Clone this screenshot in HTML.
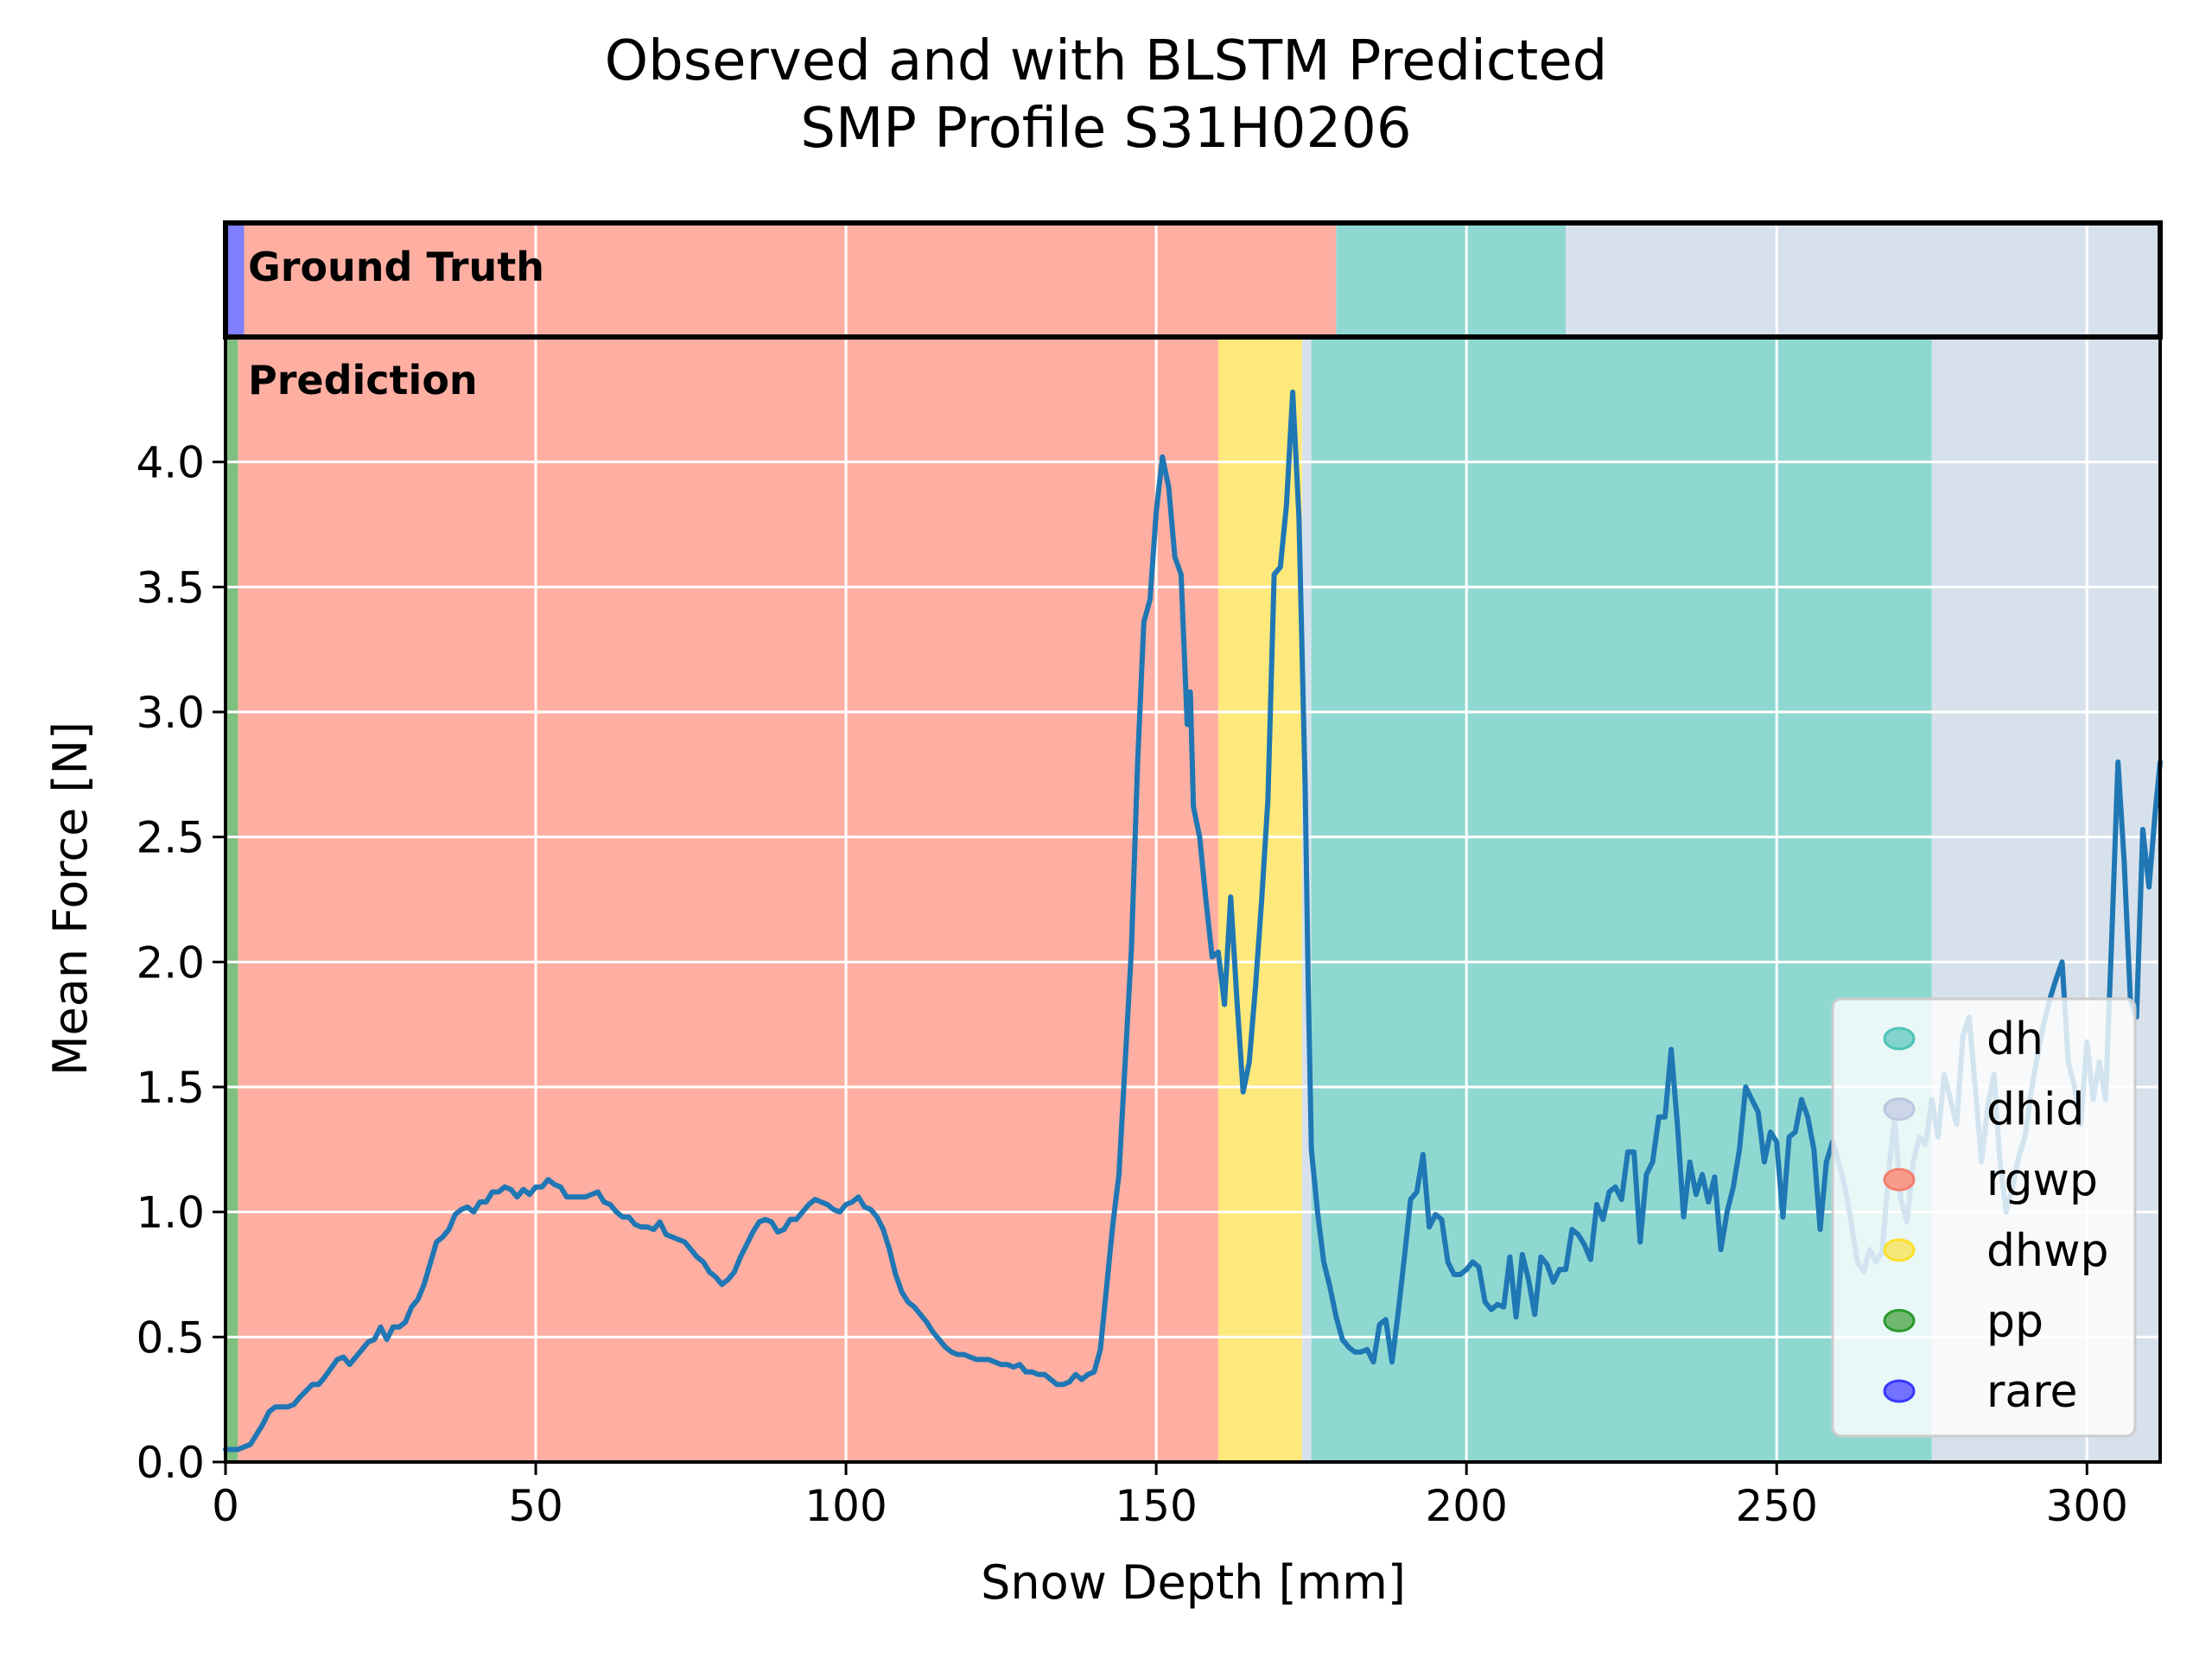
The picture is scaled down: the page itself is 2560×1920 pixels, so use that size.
<!DOCTYPE html>
<html><head><meta charset="utf-8"><style>
html,body{margin:0;padding:0;background:#fff}
svg{display:block;font-family:"DejaVu Sans","Liberation Sans",sans-serif}
</style></head><body>
<svg id="chart" width="2560" height="1920" viewBox="0 0 2560 1920" xmlns="http://www.w3.org/2000/svg">
<text x="1280" y="92" font-size="64" text-anchor="middle">Observed and with BLSTM Predicted</text>
<text x="1280" y="170" font-size="64" text-anchor="middle">SMP Profile S31H0206</text>
<g id="bands"></g>
<g id="grid"></g>
<g id="series"></g>
<g id="axes"></g>
<g id="legend"></g>
</svg>
<script>
const depth=[0,2,4,6,7,8,10,11,12,14,15,16,18,19,20,22,23,24,25,26,27,28,29,30,31,32,34,35,36,37,38,39,40,41,42,43,44,45,46,47,48,49,50,51,52,53,54,55,56,57,58,59,60,61,62,63,64,65,66,67,68,69,70,71,72,73,74,75,76,77,78,79,80,81,82,83,84,85,86,87,88,89,90,91,92,93,94,95,96,97,98,99,100,101,102,103,104,105,106,107,108,109,110,111,112,113,114,115,116,117,118,119,120,121,122,123,124,125,126,127,128,129,130,131,132,133,134,135,136,137,138,139,140,141,142,143,144,145,146,147,148,149,150,151,152,153,154,155,155.5,156,157,158,159,160,161,162,163,164,165,166,167,168,169,170,171,172,173,174,174.5,175,176,177,178,179,180,181,182,183,184,185,186,187,188,189,190,191,192,193,194,195,196,197,198,199,200,201,202,203,204,205,206,207,208,209,210,211,212,213,214,215,216,217,218,219,220,221,222,223,224,225,226,227,228,229,230,231,232,233,234,235,236,237,238,239,240,241,242,243,244,245,246,247,248,249,250,251,252,253,254,255,256,257,258,259,260,261,262,263,264,265,266,267,268,269,270,271,272,273,274,275,276,277,278,279,280,281,282,283,284,285,286,287,288,289,290,291,292,293,294,295,296,297,298,299,300,301,302,303,304,305,306,307,308,309,310,311,311.8];
const force=[0.05,0.05,0.07,0.15,0.2,0.22,0.22,0.23,0.26,0.31,0.31,0.34,0.41,0.42,0.39,0.45,0.48,0.49,0.54,0.49,0.54,0.54,0.56,0.62,0.65,0.71,0.88,0.9,0.93,0.99,1.01,1.02,1.0,1.04,1.04,1.08,1.08,1.1,1.09,1.06,1.09,1.07,1.1,1.1,1.13,1.11,1.1,1.06,1.06,1.06,1.06,1.07,1.08,1.04,1.03,1.0,0.98,0.98,0.95,0.94,0.94,0.93,0.96,0.91,0.9,0.89,0.88,0.85,0.82,0.8,0.76,0.74,0.71,0.73,0.76,0.82,0.87,0.92,0.96,0.97,0.96,0.92,0.93,0.97,0.97,1.0,1.03,1.05,1.04,1.03,1.01,1.0,1.03,1.04,1.06,1.02,1.01,0.98,0.93,0.85,0.75,0.68,0.64,0.62,0.59,0.56,0.52,0.49,0.46,0.44,0.43,0.43,0.42,0.41,0.41,0.41,0.4,0.39,0.39,0.38,0.39,0.36,0.36,0.35,0.35,0.33,0.31,0.31,0.32,0.35,0.33,0.35,0.36,0.45,0.7,0.95,1.15,1.6,2.05,2.8,3.36,3.45,3.8,4.02,3.9,3.62,3.55,2.95,3.08,2.62,2.5,2.25,2.02,2.04,1.83,2.26,1.85,1.48,1.6,1.9,2.25,2.65,3.55,3.58,3.83,4.28,3.78,2.7,1.9,1.25,1.0,0.8,0.7,0.58,0.49,0.46,0.44,0.44,0.45,0.4,0.55,0.57,0.4,0.6,0.82,1.05,1.08,1.23,0.94,0.99,0.97,0.8,0.75,0.75,0.77,0.8,0.78,0.64,0.61,0.63,0.62,0.82,0.58,0.83,0.73,0.59,0.82,0.79,0.72,0.77,0.77,0.93,0.91,0.87,0.81,1.03,0.97,1.08,1.1,1.05,1.24,1.24,0.88,1.15,1.2,1.38,1.38,1.65,1.35,0.98,1.2,1.07,1.15,1.04,1.14,0.85,1.0,1.1,1.25,1.5,1.45,1.4,1.2,1.32,1.28,0.98,1.3,1.32,1.45,1.38,1.25,0.93,1.2,1.28,1.2,1.1,0.96,0.8,0.76,0.85,0.8,0.84,1.15,1.38,1.05,0.96,1.2,1.3,1.27,1.45,1.3,1.55,1.45,1.35,1.7,1.78,1.5,1.2,1.42,1.55,1.2,1.0,1.1,1.22,1.3,1.48,1.62,1.75,1.85,1.93,2.0,1.6,1.5,1.35,1.68,1.45,1.6,1.45,2.1,2.8,2.4,1.85,1.78,2.53,2.3,2.6,2.8];
const gtStart=[0,3,179,216];
const gtEnd=[3,179,216,311.8];
const gtClass=["rare","rgwp","dh","dhid"];
const prStart=[0,2,160,173.5,175,275];
const prEnd=[2,160,173.5,175,275,311.8];
const prClass=["pp","rgwp","dhwp","dhid","dh","dhid"];
const xTicks=[0,50,100,150,200,250,300];
const yTicks=[0,0.5,1,1.5,2,2.5,3,3.5,4];
const yTickLabels=["0.0","0.5","1.0","1.5","2.0","2.5","3.0","3.5","4.0"];
const legendLabels=["dh","dhid","rgwp","dhwp","pp","rare"];

const colors={dh:"#8fd8d2",dhid:"#d7e1ec",rgwp:"#ffafa2",dhwp:"#ffe97c",pp:"#7fc07f",rare:"#7f7fff"};
const mcol={dh:["#82d4cc","#4fc3b8"],dhid:["#cdd6e8","#bcc8e0"],rgwp:["#f79c8d","#f47e6c"],dhwp:["#f5e77a","#fde02a"],pp:["#70b870","#2a9a2a"],rare:["#7272ff","#3838ff"]};
const L=261,R=2500,T=258,GB=390,B=1692,XMAX=311.8,YMAX=4.5;
const X=v=>L+(v/XMAX)*(R-L);
const Y=v=>B-(v/YMAX)*(B-GB);
const NS="http://www.w3.org/2000/svg";
function mk(tag,attrs,parent){const e=document.createElementNS(NS,tag);for(const k in attrs)e.setAttribute(k,attrs[k]);parent.appendChild(e);return e;}
const bands=document.getElementById('bands');
for(let i=0;i<gtStart.length;i++){
 const r=mk('rect',{x:X(gtStart[i]),y:T,width:X(gtEnd[i])-X(gtStart[i]),height:GB-T,fill:colors[gtClass[i]]},bands);
 
 
}
for(let i=0;i<prStart.length;i++){
 const r=mk('rect',{x:X(prStart[i]),y:GB,width:X(prEnd[i])-X(prStart[i]),height:B-GB,fill:colors[prClass[i]]},bands);
 
 
}
const grid=document.getElementById('grid');
xTicks.forEach(t=>{const l=mk('line',{x1:X(t),x2:X(t),y1:T,y2:B,stroke:"#fff","stroke-width":3},grid);
 
 });
yTicks.forEach(t=>{const l=mk('line',{x1:L,x2:R,y1:Y(t),y2:Y(t),stroke:"#fff","stroke-width":3},grid);
 
 });
const series=document.getElementById('series');
const pts=depth.map((d,i)=>X(d).toFixed(1)+","+Y(force[i]).toFixed(1)).join(" ");
const pl=mk('polyline',{points:pts,fill:"none",stroke:"#1f77b4","stroke-width":6,"stroke-linejoin":"round","stroke-linecap":"round"},series);


const axes=document.getElementById('axes');
const fr=mk('rect',{x:L,y:GB,width:R-L,height:B-GB,fill:"none",stroke:"#000","stroke-width":4},axes);


const gb=mk('rect',{x:L,y:T,width:R-L,height:GB-T,fill:"none",stroke:"#000","stroke-width":6},axes);


const t1=mk('text',{x:287,y:325,"font-size":46,"font-weight":"bold"},axes);t1.textContent="Ground Truth";


const t2=mk('text',{x:287,y:456,"font-size":46,"font-weight":"bold"},axes);t2.textContent="Prediction";


xTicks.forEach(t=>{mk('line',{x1:X(t),x2:X(t),y1:B,y2:B+15,stroke:"#000","stroke-width":3},axes);
 const tx=mk('text',{x:X(t),y:B+68,"font-size":50,"text-anchor":"middle"},axes);tx.textContent=t;
 
 });
yTicks.forEach((t,i)=>{mk('line',{x1:L-15,x2:L,y1:Y(t),y2:Y(t),stroke:"#000","stroke-width":3},axes);
 const tx=mk('text',{x:L-24,y:Y(t)+18,"font-size":50,"text-anchor":"end"},axes);tx.textContent=yTickLabels[i];
 
 });
const xl=mk('text',{x:1381,y:1850,"font-size":54,"text-anchor":"middle"},axes);xl.textContent="Snow Depth [mm]";


const yl=mk('text',{x:0,y:0,"font-size":54,"text-anchor":"middle",transform:"translate(100,1040) rotate(-90)"},axes);yl.textContent="Mean Force [N]";


const lg=document.getElementById('legend');
const lb=mk('rect',{x:2121,y:1156,width:350,height:506,rx:10,fill:"#fff","fill-opacity":0.8,stroke:"#ccc","stroke-width":3},lg);


legendLabels.forEach((c,i)=>{const y=1202+i*81.6;
 const g=mk('g',{},lg);
 
 
 mk('ellipse',{cx:2198,cy:y,rx:17,ry:12,fill:mcol[c][0],stroke:mcol[c][1],"stroke-width":3},g);
 const tx=mk('text',{x:2299,y:y+18,"font-size":52},g);tx.textContent=c;});
</script>
</body></html>
